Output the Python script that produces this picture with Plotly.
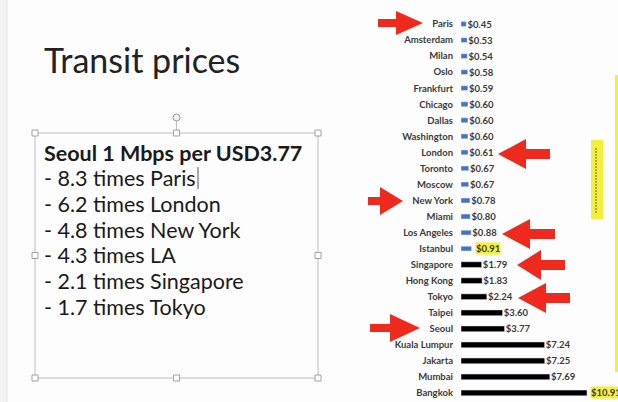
import plotly.graph_objects as go

W, H = 618, 402

cities = ["Paris", "Amsterdam", "Milan", "Oslo", "Frankfurt", "Chicago", "Dallas",
          "Washington", "London", "Toronto", "Moscow", "New York", "Miami",
          "Los Angeles", "Istanbul", "Singapore", "Hong Kong", "Tokyo", "Taipei",
          "Seoul", "Kuala Lumpur", "Jakarta", "Mumbai", "Bangkok"]
prices = [0.45, 0.53, 0.54, 0.58, 0.59, 0.60, 0.60, 0.60, 0.61, 0.67, 0.67, 0.78,
          0.80, 0.88, 0.91, 1.79, 1.83, 2.24, 3.60, 3.77, 7.24, 7.25, 7.69, 10.91]
n_blue = 15  # Paris .. Istanbul drawn blue, rest black
highlighted = ["Istanbul", "Bangkok"]

title_text = "Transit prices"
box_lines = ["<b>Seoul 1 Mbps per USD3.77</b>", "- 8.3 times Paris", "- 6.2 times London",
             "- 4.8 times New York", "- 4.3 times LA", "- 2.1 times Singapore",
             "- 1.7 times Tokyo"]
arrow_targets = {"Paris": "right", "New York": "right", "Seoul": "right",
                 "London": "left", "Los Angeles": "left", "Singapore": "left", "Tokyo": "left"}


def px(x):
    return x / W


def py(y):
    return 1 - y / H


FONT = "Lato"
label_color = "#3a3a3a"
LBL_SIZE = 9.5

fig = go.Figure()

blue_c = cities[:n_blue]
blue_v = prices[:n_blue]
black_c = cities[n_blue:]
black_v = prices[n_blue:]


def lbl(c, v):
    return "" if c in highlighted else f"\u2009${v:.2f}"


for cs, vs, col, wd in ((blue_c, blue_v, "#4472c4", 0.3), (black_c, black_v, "#000000", 0.36)):
    fig.add_trace(go.Bar(y=cs, x=vs, orientation="h", marker_color=col, width=wd,
                         text=[lbl(c, v) for c, v in zip(cs, vs)],
                         textposition="outside", cliponaxis=False, constraintext="none",
                         textfont=dict(family=FONT, size=LBL_SIZE, color=label_color,
                                       weight="bold")))

annotations = []
for c in highlighted:
    v = prices[cities.index(c)]
    annotations.append(dict(x=v, y=c, xref="x", yref="y", text=f"<b>${v:.2f}</b>",
                            showarrow=False, xanchor="left", yanchor="middle", xshift=3,
                            bgcolor="#f6f03a", borderpad=0,
                            font=dict(family=FONT, size=LBL_SIZE, color=label_color)))

# Slide title and text box
annotations.append(dict(x=px(42), y=py(60), xref="paper", yref="paper", text=title_text,
                        showarrow=False, xanchor="left", yanchor="middle",
                        font=dict(family=FONT, size=34, color="#222222")))
line_y = [153, 178, 204, 230, 255, 281, 307]
for t, yy in zip(box_lines, line_y):
    annotations.append(dict(x=px(42), y=py(yy), xref="paper", yref="paper", text=t,
                            showarrow=False, xanchor="left", yanchor="middle",
                            font=dict(family=FONT, size=21.5, color="#1a1a1a")))

shapes = []
# outside-slide margin on left
shapes.append(dict(type="rect", xref="paper", yref="paper", x0=0, x1=px(7), y0=0, y1=1,
                   fillcolor="#f3f3f3", line_width=0, layer="below"))
shapes.append(dict(type="line", xref="paper", yref="paper", x0=px(7), x1=px(7), y0=0, y1=1,
                   line=dict(color="#e2e2e2", width=1), layer="below"))
# text box frame
bx0, bx1, by0, by1 = 35, 318, 133, 378
shapes.append(dict(type="rect", xref="paper", yref="paper", x0=px(bx0), x1=px(bx1),
                   y0=py(by1), y1=py(by0), line=dict(color="#bdbdbd", width=1)))
shapes.append(dict(type="line", xref="paper", yref="paper", x0=px(176.5), x1=px(176.5),
                   y0=py(121), y1=py(133), line=dict(color="#bdbdbd", width=1)))
shapes.append(dict(type="circle", xref="paper", yref="paper", x0=px(173), x1=px(180),
                   y0=py(121), y1=py(114), fillcolor="#f0f0f0", line=dict(color="#999999", width=1)))
for hx in (bx0, (bx0 + bx1) / 2, bx1):
    for hy in (by0, (by0 + by1) / 2, by1):
        if hx == (bx0 + bx1) / 2 and hy == (by0 + by1) / 2:
            continue
        shapes.append(dict(type="rect", xref="paper", yref="paper", x0=px(hx - 3), x1=px(hx + 3),
                           y0=py(hy + 3), y1=py(hy - 3), fillcolor="#ffffff",
                           line=dict(color="#a0a0a0", width=1)))
# text cursor after "Paris"
shapes.append(dict(type="line", xref="paper", yref="paper", x0=px(198), x1=px(198),
                   y0=py(189), y1=py(167), line=dict(color="#555555", width=1)))

# yellow decorations on the right
shapes.append(dict(type="rect", xref="paper", yref="paper", x0=px(591), x1=px(603),
                   y0=py(219), y1=py(140), fillcolor="#f4ef3a", line_width=0))
shapes.append(dict(type="line", xref="paper", yref="paper", x0=px(596), x1=px(596),
                   y0=py(213), y1=py(147), line=dict(color="#8f8f5a", width=1.5, dash="2px,1px")))
shapes.append(dict(type="rect", xref="paper", yref="paper", x0=px(615), x1=px(618),
                   y0=py(372), y1=py(75), fillcolor="#f4ef3a", line_width=0))

# red block arrows (pixel geometry: tail, head base, tip, centre y, head half, shaft half)
arrow_geom = {
    "Paris": (378, 396, 423, 23, 12, 4),
    "New York": (368, 380, 403, 201, 14, 4),
    "Seoul": (370, 390, 420, 328, 14, 4),
    "London": (550, 526, 498, 154, 15, 5),
    "Los Angeles": (555, 530, 502, 234, 15, 5),
    "Singapore": (565, 541, 517, 265, 15, 5),
    "Tokyo": (570, 546, 518, 298, 15, 5),
}
for city, direction in arrow_targets.items():
    t, b, tip, cy, hh, sh = arrow_geom[city]
    pts = [(t, cy - sh), (b, cy - sh), (b, cy - hh), (tip, cy), (b, cy + hh), (b, cy + sh), (t, cy + sh)]
    path = "M " + " L ".join(f"{px(a):.5f},{py(c):.5f}" for a, c in pts) + " Z"
    shapes.append(dict(type="path", xref="paper", yref="paper", path=path,
                       fillcolor="#ee2a1e", line_width=0))

fig.update_layout(
    width=W, height=H, margin=dict(l=0, r=0, t=0, b=0),
    paper_bgcolor="#fdfdfd", plot_bgcolor="rgba(0,0,0,0)",
    showlegend=False, barmode="overlay", hovermode=False,
    annotations=annotations, shapes=shapes,
    xaxis=dict(domain=[461 / W, (461 + 12 * 11.55) / W], range=[0, 12], visible=False,
               fixedrange=True),
    yaxis=dict(domain=[1 - 401.0 / H, 1 - 16.0 / H], type="category",
               categoryorder="array", categoryarray=cities, range=[len(cities) - 0.5, -0.5],
               showgrid=False, zeroline=False, showline=False, ticks="",
               ticklabelstandoff=7, automargin=False, fixedrange=True,
               tickfont=dict(family=FONT, size=LBL_SIZE, color=label_color, weight="bold")),
)

fig.write_html("out.html", config={"displayModeBar": False},
               post_script="document.body.style.margin='0px';")
